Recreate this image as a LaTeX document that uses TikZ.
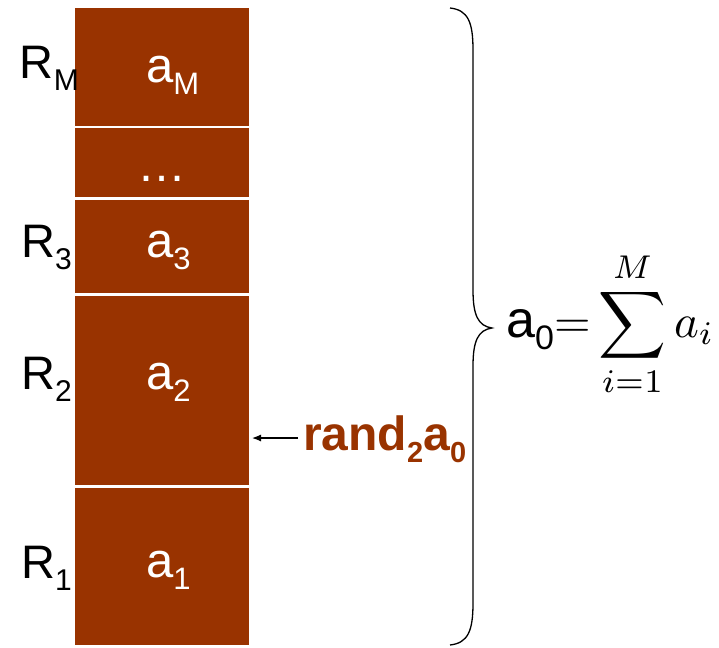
\documentclass[tikz,border=0pt]{standalone}
\usepackage{amsmath}
\usepackage{fontspec}
\setmainfont{Liberation Sans}
\usepackage{tikz}
\usetikzlibrary{arrows.meta,positioning,calc}
\definecolor{cellbrown}{HTML}{993300}
\newcommand{\lowidx}[2][31]{\raisebox{-12pt}{\fontsize{#1}{#1}\selectfont #2}}

\begin{document}
\begin{tikzpicture}[
  x=1pt, y=-1pt,
  cell/.style={fill=cellbrown, draw=white, line width=2.5pt, minimum width=176pt, inner sep=0pt},
  celltext/.style={anchor=base west, inner sep=0pt, text=white, font=\fontsize{49}{56}\selectfont},
  rlabel/.style={anchor=base east, inner sep=0pt, font=\fontsize{47}{56}\selectfont},
  arrow/.style={-{Latex[length=9pt,width=7pt]}, line width=1.2pt, draw=black}
]
\useasboundingbox (0,0) rectangle (719,647);

% stack of reaction rates
\node[cell, minimum height=121pt] (cM) at (162,67) {};
\node[cell, minimum height=71pt] (cdots) at (162,162.5) {};
\node[cell, minimum height=96pt] (c3) at (162,246.5) {};
\node[cell, minimum height=192pt] (c2) at (162,390.5) {};
\node[cell, minimum height=160pt] (c1) at (162,566.5) {};

\node[celltext] (aM) at (146,83) {a\lowidx{M}};
\node[celltext, anchor=base] (adots) at (cdots |- 0,182) {\dots};
\node[celltext] (a3) at (146,257) {a\lowidx{3}};
\node[celltext] (a2) at (146,389) {a\lowidx{2}};
\node[celltext] (a1) at (146,577) {a\lowidx{1}};

\node[rlabel] (rM) at (79,79) {R\lowidx[30]{M}};
\node[rlabel] (r3) at (72,257) {R\lowidx[30]{3}};
\node[rlabel] (r2) at (72,389) {R\lowidx[30]{2}};
\node[rlabel] (r1) at (72,578) {R\lowidx[30]{1}};

% random pick
\node[anchor=base west, inner sep=0pt, text=cellbrown, font=\fontsize{48}{52}\selectfont\bfseries] (rand) at (303,450) {rand\lowidx[29]{2}a\lowidx[29]{0}};
\coordinate (tip) at (252,438);
\coordinate (tail) at (298,438);
\draw[arrow] (tail) -- (tip);

% brace and total
\coordinate (btop) at (450,8);
\coordinate (bmid) at (492,328);
\coordinate (bbot) at (450,645);
\draw[line width=1.3pt] (btop) .. controls (468,10) and (473,22) .. (473,50) -- (473,290)
  .. controls (473,315) and (478,326) .. (bmid)
  .. controls (478,330) and (473,341) .. (473,366) -- (473,603)
  .. controls (473,631) and (468,643) .. (bbot);
\node[anchor=base west, inner sep=0pt, font=\fontsize{52}{56}\selectfont] (total) at (506,337)
  {a\lowidx[34]{0}\scalebox{4.7}{\fontsize{10}{12}\selectfont$\displaystyle{=}\sum_{i=1}^{M}a_i$}};
\end{tikzpicture}
\end{document}
